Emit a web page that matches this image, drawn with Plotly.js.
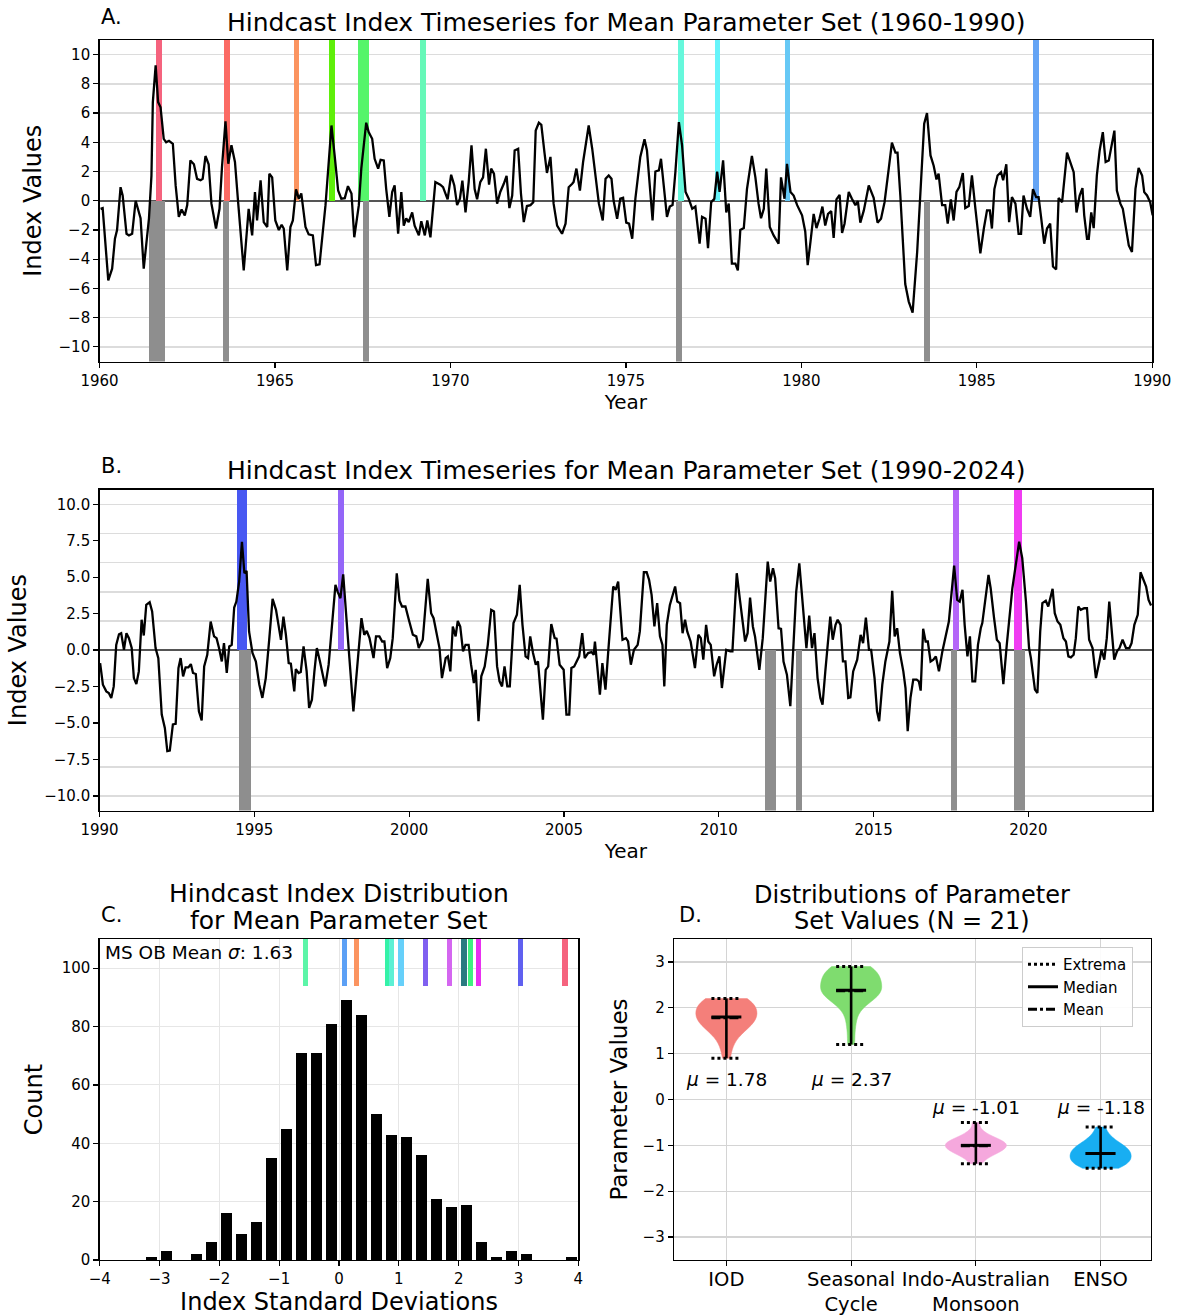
<!DOCTYPE html>
<html><head><meta charset="utf-8">
<script src="https://cdn.plot.ly/plotly-3.0.1.min.js"></script>
<style>html,body{margin:0;padding:0;background:#fff}#chart{width:1177px;height:1316px}</style>
</head><body><div id="chart"></div>
<script>
// ---------- Panel A: index timeseries 1960-1990 (year, value) ----------
const seriesA60s = [[1960.03,-0.55],[1960.09,-0.5],[1960.25,-5.45],[1960.36,-4.65],[1960.44,-2.6],[1960.5,-2.0],[1960.6,0.93],[1960.66,0.36],[1960.77,-2.26],[1960.84,-2.37],[1960.93,-2.26],[1961.03,0.0],[1961.17,-1.2],[1961.26,-4.65],[1961.41,-1.2],[1961.48,1.7],[1961.52,6.75],[1961.6,9.26],[1961.67,6.75],[1961.74,6.4],[1961.83,4.24],[1961.9,4.0],[1961.98,4.1],[1962.09,3.9],[1962.17,1.05],[1962.26,-1.1],[1962.34,-0.6],[1962.43,-1.0],[1962.5,-0.3],[1962.59,2.76],[1962.69,2.5],[1962.78,1.5],[1962.88,1.4],[1962.94,1.5],[1963.02,3.06],[1963.11,2.5],[1963.19,-0.2],[1963.32,-1.9],[1963.42,-0.55],[1963.49,2.3],[1963.59,5.43],[1963.67,2.53],[1963.76,3.8],[1963.86,2.65],[1963.95,-0.1],[1964.11,-4.77],[1964.25,-0.55],[1964.35,-2.37],[1964.43,0.6],[1964.49,-1.35],[1964.59,1.4],[1964.68,-1.46],[1964.78,-1.8],[1964.84,1.85],[1964.92,1.6],[1965.01,-1.35],[1965.11,-2.0],[1965.19,-1.64],[1965.25,-1.9],[1965.35,-4.77],[1965.44,-1.8],[1965.51,-1.35],[1965.6,0.78],[1965.68,0.14],[1965.75,0.5],[1965.87,-1.8],[1965.96,-2.3],[1966.08,-2.37],[1966.17,-4.4],[1966.27,-4.35],[1966.44,-0.3],[1966.51,1.96],[1966.61,5.15],[1966.7,3.1],[1966.8,0.7],[1966.89,0.14],[1966.99,0.18],[1967.08,1.0],[1967.18,0.5],[1967.26,-2.5],[1967.39,-0.3],[1967.46,2.2],[1967.6,5.34],[1967.67,4.7],[1967.77,4.24],[1967.84,2.87],[1967.94,2.2],[1968.01,2.8],[1968.1,2.76],[1968.17,0.8],[1968.26,-1.1],[1968.34,0.6],[1968.41,1.05],[1968.51,-2.26],[1968.6,0.6],[1968.67,-1.7],[1968.74,-1.2],[1968.81,-1.46],[1968.91,-0.8],[1968.98,-1.7],[1969.1,-2.37],[1969.17,-1.4],[1969.27,-2.37],[1969.34,-1.35],[1969.43,-2.5],[1969.57,1.28],[1969.71,1.1]];
const seriesA70s = [[1969.79,0.93],[1969.92,0.1],[1970.02,1.78],[1970.11,1.05],[1970.19,-0.3],[1970.27,0.14],[1970.34,1.37],[1970.43,-0.8],[1970.52,1.28],[1970.6,3.8],[1970.69,0.8],[1970.76,0.1],[1970.85,1.28],[1970.93,1.6],[1971.01,3.56],[1971.1,1.1],[1971.16,2.2],[1971.24,1.85],[1971.33,-0.2],[1971.42,0.6],[1971.52,1.16],[1971.6,1.7],[1971.68,-0.5],[1971.76,0.36],[1971.83,3.44],[1971.93,3.56],[1972.01,0.48],[1972.09,-1.46],[1972.18,-0.36],[1972.28,-0.3],[1972.36,-0.1],[1972.43,4.8],[1972.52,5.34],[1972.59,5.2],[1972.68,3.3],[1972.75,1.9],[1972.85,3.0],[1972.94,-0.2],[1973.04,-1.7],[1973.18,-2.26],[1973.28,-1.57],[1973.37,0.93],[1973.47,1.16],[1973.51,1.28],[1973.59,2.2],[1973.69,0.7],[1973.78,2.65],[1973.94,5.15],[1974.04,3.56],[1974.13,1.73],[1974.23,-0.2],[1974.34,-1.35],[1974.42,1.5],[1974.51,1.73],[1974.59,1.5],[1974.65,0.0],[1974.75,-1.23],[1974.84,0.14],[1974.92,0.2],[1975.01,-1.5],[1975.09,-1.57],[1975.18,-2.6],[1975.27,0.14],[1975.41,3.0],[1975.53,4.2],[1975.6,3.44],[1975.68,0.93],[1975.76,-1.35],[1975.84,2.0],[1975.94,2.08],[1976.0,2.87],[1976.08,0.8],[1976.17,-1.1],[1976.25,-0.4],[1976.33,-0.3],[1976.41,1.96],[1976.51,5.38],[1976.6,3.8],[1976.7,0.6],[1976.79,0.14],[1976.89,-0.55],[1976.98,-0.4],[1977.1,-2.94],[1977.17,-1.1],[1977.27,-1.23],[1977.34,-3.24],[1977.43,-0.1],[1977.52,0.14],[1977.6,2.0],[1977.67,0.6],[1977.77,2.76],[1977.86,-0.8],[1977.93,-0.2],[1978.02,-4.3],[1978.12,-4.3],[1978.19,-4.77],[1978.26,-2.0],[1978.36,-1.87],[1978.45,0.8],[1978.59,3.06],[1978.69,1.6],[1978.78,-0.2],[1978.85,-1.2],[1978.93,-0.55],[1979.0,2.2],[1979.1,-1.8],[1979.21,-2.37],[1979.35,-2.94],[1979.42,1.6],[1979.52,0.14],[1979.59,2.53],[1979.69,0.6],[1979.78,0.36],[1979.88,-0.3],[1979.97,-0.8]];
const seriesA80s = [[1980.02,-1.0],[1980.11,-2.1],[1980.18,-4.4],[1980.26,-2.8],[1980.35,-0.9],[1980.43,-1.87],[1980.52,-1.2],[1980.6,-0.4],[1980.68,-1.7],[1980.76,-0.9],[1980.85,-0.7],[1980.92,-2.55],[1981.0,0.1],[1981.09,0.4],[1981.16,-2.2],[1981.23,-1.57],[1981.35,0.6],[1981.44,0.14],[1981.54,-0.3],[1981.61,-0.02],[1981.68,-1.5],[1981.78,-0.66],[1981.92,1.05],[1982.06,0.2],[1982.17,-1.5],[1982.27,-1.23],[1982.37,-0.1],[1982.49,2.2],[1982.58,3.97],[1982.68,3.3],[1982.74,3.3],[1982.82,0.36],[1982.96,-5.7],[1983.06,-6.9],[1983.17,-7.66],[1983.3,-3.5],[1983.39,0.36],[1983.5,5.27],[1983.58,6.0],[1983.68,3.1],[1983.77,2.4],[1983.85,1.46],[1983.91,1.85],[1984.01,-0.3],[1984.1,-0.3],[1984.17,-1.57],[1984.26,0.1],[1984.34,-1.35],[1984.42,0.6],[1984.5,0.93],[1984.6,1.9],[1984.67,-0.5],[1984.77,-0.36],[1984.86,1.73],[1984.96,-0.55],[1985.1,-3.6],[1985.2,-1.9],[1985.29,-0.66],[1985.37,-0.66],[1985.43,-1.9],[1985.5,0.8],[1985.59,1.73],[1985.69,1.96],[1985.75,1.4],[1985.84,2.5],[1985.92,-1.46],[1986.0,0.25],[1986.1,-0.2],[1986.19,-2.26],[1986.26,-2.26],[1986.33,0.36],[1986.43,-0.55],[1986.52,-1.1],[1986.6,0.8],[1986.69,0.25],[1986.76,0.25],[1986.83,-1.1],[1986.92,-2.94],[1987.0,-1.9],[1987.09,-1.57],[1987.17,-4.5],[1987.26,-4.7],[1987.33,0.18],[1987.43,-0.1],[1987.57,3.3],[1987.66,2.65],[1987.76,1.96],[1987.84,-0.8],[1987.93,0.36],[1988.01,0.87],[1988.06,-1.0],[1988.14,-2.6],[1988.19,-2.6],[1988.26,-0.8],[1988.33,-1.87],[1988.42,1.73],[1988.5,3.44],[1988.59,4.7],[1988.67,2.65],[1988.76,2.76],[1988.85,4.0],[1988.92,4.8],[1988.99,0.7],[1989.09,-0.2],[1989.16,-0.55],[1989.23,-1.7],[1989.33,-3.06],[1989.42,-3.5],[1989.52,0.82],[1989.61,2.24],[1989.71,1.73],[1989.77,0.59],[1989.85,0.36],[1989.94,-0.1],[1990.01,-1.0]];

// ---------- Panel B: index timeseries 1990-2024 (year, value) ----------
const seriesB90s = [[1990.02,-0.89],[1990.11,-2.37],[1990.22,-2.83],[1990.3,-2.94],[1990.38,-3.28],[1990.46,-2.49],[1990.54,0.36],[1990.63,1.09],[1990.7,1.16],[1990.79,0.02],[1990.87,1.16],[1990.95,0.82],[1991.04,0.14],[1991.11,-1.92],[1991.19,-2.33],[1991.27,-1.46],[1991.36,2.08],[1991.43,1.0],[1991.51,3.1],[1991.62,3.28],[1991.7,2.65],[1991.81,0.14],[1991.9,-0.55],[1992.01,-4.42],[1992.11,-5.34],[1992.19,-6.93],[1992.27,-6.89],[1992.37,-5.1],[1992.46,-5.06],[1992.55,-1.23],[1992.62,-0.55],[1992.7,-1.8],[1992.78,-1.19],[1992.87,-1.19],[1992.95,-0.96],[1993.02,-1.57],[1993.11,-1.64],[1993.21,-4.2],[1993.3,-4.83],[1993.38,-1.12],[1993.48,-0.32],[1993.59,1.96],[1993.7,0.94],[1993.78,0.82],[1993.86,0.14],[1993.95,-0.78],[1994.02,0.48],[1994.11,-1.57],[1994.19,0.25],[1994.27,0.36],[1994.35,2.92],[1994.42,3.33],[1994.51,4.7],[1994.6,7.43],[1994.68,5.27],[1994.75,5.43],[1994.83,1.28],[1994.94,-0.2],[1995.05,-0.78],[1995.16,-2.37],[1995.26,-3.28],[1995.37,-1.92],[1995.48,0.7],[1995.59,3.51],[1995.7,2.76],[1995.78,1.73],[1995.86,0.7],[1995.94,2.3],[1996.02,1.05],[1996.11,-0.89],[1996.18,-0.93],[1996.29,-2.83],[1996.34,-1.3],[1996.43,-1.57],[1996.5,-1.5],[1996.59,0.25],[1996.69,-1.46],[1996.77,-3.97],[1996.86,-3.4],[1996.94,-1.46],[1997.02,0.14],[1997.12,-0.78],[1997.21,-1.69],[1997.29,-2.49],[1997.4,-1.0],[1997.51,1.73],[1997.62,4.47],[1997.69,4.01],[1997.78,3.56],[1997.87,5.2],[1997.98,1.73],[1998.07,-0.55],[1998.2,-4.2],[1998.28,-1.92],[1998.37,0.02],[1998.46,2.19],[1998.55,1.05],[1998.63,1.32],[1998.72,0.82],[1998.85,-0.55],[1998.93,0.94],[1999.04,0.94],[1999.13,0.59],[1999.2,0.59],[1999.29,-1.23],[1999.39,-0.55],[1999.47,0.82],[1999.6,5.27],[1999.69,3.38],[1999.77,2.99],[1999.88,2.99],[1999.99,2.08],[2000.12,1.05],[2000.23,0.94],[2000.31,0.14],[2000.44,0.71],[2000.6,4.88],[2000.71,2.53],[2000.79,2.19],[2000.98,0.14],[2001.06,-1.92],[2001.18,-0.55],[2001.25,-0.43],[2001.33,-1.46],[2001.41,1.62],[2001.5,0.94]];
const seriesB00s = [[2001.57,2.0],[2001.65,1.62],[2001.74,-0.09],[2001.82,0.36],[2001.92,0.36],[2002.0,-1.0],[2002.09,-2.26],[2002.15,-1.35],[2002.24,-4.88],[2002.33,-1.8],[2002.44,-1.12],[2002.54,0.36],[2002.65,2.76],[2002.74,2.65],[2002.84,-1.12],[2002.92,-2.14],[2003.0,-2.49],[2003.08,-1.12],[2003.17,-2.49],[2003.25,-2.49],[2003.37,1.85],[2003.48,2.42],[2003.57,4.47],[2003.66,1.73],[2003.76,-0.43],[2003.84,-0.55],[2003.91,0.94],[2004.0,-0.2],[2004.09,-1.0],[2004.16,-0.78],[2004.32,-4.77],[2004.41,-1.35],[2004.49,-1.12],[2004.59,1.78],[2004.7,0.82],[2004.76,0.78],[2004.86,-1.0],[2004.99,-1.35],[2005.08,-4.42],[2005.17,-4.42],[2005.24,-1.23],[2005.33,-1.12],[2005.4,-0.78],[2005.49,-0.43],[2005.59,1.16],[2005.67,-0.55],[2005.78,-0.2],[2005.89,-0.14],[2005.96,-0.32],[2006.0,0.59],[2006.07,-1.0],[2006.16,-3.06],[2006.24,-0.89],[2006.34,-2.71],[2006.43,-0.09],[2006.54,3.33],[2006.59,4.36],[2006.67,4.13],[2006.75,4.7],[2006.89,0.71],[2007.0,0.82],[2007.07,0.59],[2007.16,-1.0],[2007.26,0.02],[2007.38,0.36],[2007.45,1.28],[2007.58,5.34],[2007.67,5.34],[2007.75,4.81],[2007.83,3.79],[2007.92,1.62],[2008.01,3.22],[2008.1,0.94],[2008.18,0.36],[2008.24,-2.49],[2008.32,1.73],[2008.42,3.1],[2008.59,4.36],[2008.66,3.33],[2008.75,3.22],[2008.83,1.16],[2008.91,2.08],[2008.98,1.28],[2009.09,0.59],[2009.23,-1.23],[2009.34,1.05],[2009.42,0.82],[2009.5,-0.66],[2009.59,1.73],[2009.66,0.59],[2009.74,0.36],[2009.85,-1.8],[2009.93,-1.0],[2010.02,-0.43],[2010.1,-2.6],[2010.24,0.02],[2010.37,-0.09],[2010.44,-0.09],[2010.58,5.27],[2010.69,3.33],[2010.85,0.59],[2010.93,1.16],[2011.01,3.6],[2011.1,1.62],[2011.17,0.94],[2011.31,-1.35],[2011.42,0.82],[2011.58,6.07],[2011.66,4.7],[2011.75,5.61],[2011.82,4.93],[2011.93,1.5],[2012.01,1.46],[2012.09,-0.78],[2012.2,-1.69],[2012.31,-3.85],[2012.43,1.05],[2012.5,4.01],[2012.6,5.95]];
const seriesB10s = [[2012.69,3.79],[2012.83,0.14],[2012.92,2.37],[2013.01,0.14],[2013.09,1.16],[2013.19,-1.92],[2013.28,-3.28],[2013.35,-3.74],[2013.44,-1.46],[2013.6,2.3],[2013.68,0.71],[2013.77,1.73],[2013.84,2.08],[2013.93,1.73],[2014.01,-0.78],[2014.09,-0.78],[2014.18,-3.28],[2014.25,-3.24],[2014.34,-1.46],[2014.47,-0.66],[2014.58,1.05],[2014.66,0.48],[2014.75,2.23],[2014.85,0.02],[2014.92,0.02],[2015.03,-1.92],[2015.11,-4.2],[2015.18,-4.88],[2015.28,-2.37],[2015.38,-0.78],[2015.51,0.59],[2015.6,4.06],[2015.68,0.94],[2015.76,1.5],[2015.85,-0.2],[2015.96,-1.46],[2016.03,-2.6],[2016.1,-5.56],[2016.19,-3.28],[2016.28,-2.03],[2016.39,-2.03],[2016.46,-2.14],[2016.52,-2.78],[2016.6,1.46],[2016.68,0.59],[2016.75,0.59],[2016.84,-0.78],[2016.93,-0.66],[2017.01,-0.43],[2017.11,-1.46],[2017.22,-0.09],[2017.33,1.05],[2017.43,1.96],[2017.6,5.79],[2017.7,3.44],[2017.78,3.33],[2017.87,4.13],[2017.94,1.73],[2018.03,-0.43],[2018.11,0.94],[2018.19,-2.14],[2018.28,-2.14],[2018.37,0.36],[2018.46,1.5],[2018.51,1.85],[2018.71,5.15],[2018.78,4.24],[2018.89,2.19],[2018.98,0.71],[2019.07,0.48],[2019.19,-2.33],[2019.3,0.36],[2019.48,4.24],[2019.7,7.43],[2019.8,6.3],[2019.92,3.33],[2020.02,0.14],[2020.08,-0.55],[2020.21,-2.71],[2020.29,-2.94],[2020.38,1.28],[2020.45,3.22],[2020.56,3.38],[2020.64,2.99],[2020.78,4.2],[2020.85,2.53],[2020.94,1.96],[2021.03,1.73],[2021.13,0.82],[2021.21,0.59],[2021.29,-0.43],[2021.37,-0.5],[2021.46,-0.32],[2021.53,0.82],[2021.61,2.99],[2021.69,2.76],[2021.8,2.87],[2021.89,2.87],[2021.96,0.71],[2022.07,0.14],[2022.18,-1.92],[2022.29,-0.78],[2022.36,0.02],[2022.45,-0.66],[2022.53,0.82],[2022.61,3.33],[2022.69,1.5],[2022.77,-0.66],[2022.86,-0.09],[2022.94,0.14],[2023.04,0.71],[2023.15,0.14],[2023.26,0.14],[2023.33,0.48],[2023.42,1.73],[2023.53,2.42],[2023.62,5.34],[2023.72,4.81],[2023.8,4.36],[2023.88,3.44],[2023.96,3.06]];

// ---------- Highlighted events (colored, above zero) and gray spans (below zero) ----------
const eventStartA = [1961.60, 1963.55, 1965.53, 1966.53, 1967.38, 1969.14, 1976.48, 1977.53, 1979.52, 1986.60];
const eventEndA   = [1961.77, 1963.72, 1965.69, 1966.72, 1967.69, 1969.30, 1976.65, 1977.69, 1979.69, 1986.76];
const eventColorA = ['#f5637e', '#fb6a64', '#fb9460', '#5fef0a', '#55f56a', '#66f8b8', '#66f8dc', '#66f4fa', '#66c8f5', '#64a4f5'];
const grayStartA = [1961.42, 1963.52, 1967.50, 1976.43, 1983.50];
const grayEndA   = [1961.86, 1963.70, 1967.69, 1976.60, 1983.67];
const eventStartB = [1994.44, 1997.69, 2017.57, 2019.52];
const eventEndB   = [1994.77, 1997.90, 2017.76, 2019.78];
const eventColorB = ['#4858f2', '#9466f8', '#b466f8', '#f03cf2'];
const grayStartB = [1994.51, 2011.50, 2012.50, 2017.51, 2019.52];
const grayEndB   = [1994.88, 2011.84, 2012.70, 2017.70, 2019.88];

// ---------- Panel C: histogram ----------
const histCounts = [1, 3, 0, 2, 6, 16, 9, 13, 35, 45, 71, 71, 81, 89, 84, 50, 43, 42, 36, 21, 18, 19, 6, 1, 3, 2, 0, 0, 1];
const histFirstCenter = -3.134;
const histBinWidth = 0.2507;
const sigmaMarkPos   = [-0.556, 0.089, 0.295, 0.82, 0.88, 1.035, 1.447, 1.842, 2.09, 2.2, 2.33, 3.03, 3.78];
const sigmaMarkColor = ['#5cf5a8', '#5ca0f5', '#fb9460', '#34f2a8', '#5cf0d4', '#66d0fa', '#8060f0', '#d466f0', '#2a7a80', '#40f080', '#e830f0', '#6060f0', '#f5637e'];
const msObMeanSigma = 1.63;

// ---------- Panel D: parameter distributions (N = 21) ----------
const paramNames = ['IOD', 'Seasonal<br>Cycle', 'Indo-Australian<br>Monsoon', 'ENSO'];
const paramColors = ['#f47f7a', '#7fdc6f', '#f5a8dd', '#18aef2'];
const iodValues      = [0.9, 1.2, 1.35, 1.5, 1.58, 1.6, 1.65, 1.7, 1.75, 1.78, 1.8, 1.85, 1.9, 1.95, 2.0, 2.05, 2.1, 2.12, 2.16, 2.2, 2.2];
const seasonalValues = [1.2, 1.6, 1.9, 2.1, 2.2, 2.25, 2.3, 2.33, 2.35, 2.37, 2.38, 2.5, 2.55, 2.6, 2.65, 2.7, 2.75, 2.8, 2.85, 2.88, 2.9];
const monsoonValues  = [-1.4, -1.3, -1.22, -1.18, -1.15, -1.12, -1.1, -1.08, -1.05, -1.02, -1.0, -0.98, -0.96, -0.94, -0.92, -0.9, -0.87, -0.83, -0.78, -0.7, -0.5];
const ensoValues     = [-1.5, -1.47, -1.44, -1.41, -1.38, -1.35, -1.32, -1.29, -1.26, -1.22, -1.18, -1.15, -1.12, -1.1, -1.07, -1.03, -1.0, -0.95, -0.88, -0.78, -0.6];
const paramMeans = [1.78, 2.37, -1.01, -1.18];

// ================= build =================
const FONT = 'DejaVu Sans, Arial, sans-serif';
const YLIM = 11;
const GRID = '#dcdcdc';
const traces = [];

function spanTrace(starts, ends, colors, top, xa, ya) {
  return {type: 'bar', x: starts.map((s, i) => (s + ends[i]) / 2), width: starts.map((s, i) => ends[i] - s),
    y: starts.map(() => top), base: 0, marker: {color: colors, line: {width: 0}},
    xaxis: xa, yaxis: ya, showlegend: false, hoverinfo: 'skip'};
}
function lineTrace(parts, xa, ya) {
  const pts = [].concat(...parts);
  return {type: 'scatter', mode: 'lines', x: pts.map(p => p[0]), y: pts.map(p => p[1]),
    line: {color: 'black', width: 2.3}, xaxis: xa, yaxis: ya, showlegend: false, hoverinfo: 'skip'};
}

// Panel A
traces.push(spanTrace(eventStartA, eventEndA, eventColorA, YLIM, 'x', 'y'));
traces.push(spanTrace(grayStartA, grayEndA, grayStartA.map(() => '#8e8e8e'), -YLIM, 'x', 'y'));
traces.push(lineTrace([seriesA60s, seriesA70s, seriesA80s], 'x', 'y'));
// Panel B
traces.push({type: 'scatter', x: [], y: [], xaxis: 'x2', yaxis: 'y5', showlegend: false, hoverinfo: 'skip'});
traces.push(spanTrace(eventStartB, eventEndB, eventColorB, YLIM, 'x2', 'y2'));
traces.push(spanTrace(grayStartB, grayEndB, grayStartB.map(() => '#8e8e8e'), -YLIM, 'x2', 'y2'));
traces.push(lineTrace([seriesB90s, seriesB00s, seriesB10s], 'x2', 'y2'));

// Panel C
const MARK_BASE = 94, MARK_TOP = 110;
traces.push({type: 'bar', x: histCounts.map((c, i) => histFirstCenter + i * histBinWidth), y: histCounts,
  width: histBinWidth * 0.78, marker: {color: 'black', line: {width: 0}}, xaxis: 'x3', yaxis: 'y3', showlegend: false, hoverinfo: 'skip'});
traces.push({type: 'bar', x: sigmaMarkPos, y: sigmaMarkPos.map(() => MARK_TOP - MARK_BASE), base: MARK_BASE,
  width: 0.09, marker: {color: sigmaMarkColor, line: {width: 0}}, xaxis: 'x3', yaxis: 'y3', showlegend: false, hoverinfo: 'skip'});

// Panel D
const paramValues = [iodValues, seasonalValues, monsoonValues, ensoValues];
paramValues.forEach((vals, i) => {
  traces.push({type: 'violin', x: vals.map(() => i), y: vals, spanmode: 'hard', points: false,
    width: 0.49, scalemode: 'width', fillcolor: paramColors[i], line: {color: paramColors[i], width: 0.5},
    opacity: 1, box: {visible: false}, meanline: {visible: false}, xaxis: 'x4', yaxis: 'y4',
    showlegend: false, hoverinfo: 'skip'});
});
function median(a) { const s = [...a].sort((p, q) => p - q); const n = s.length; return n % 2 ? s[(n - 1) / 2] : (s[n / 2 - 1] + s[n / 2]) / 2; }
const HW = 0.12;
const vertX = [], vertY = [], extX = [], extY = [], medX = [], medY = [], meanX = [], meanY = [];
paramValues.forEach((vals, i) => {
  const lo = Math.min(...vals), hi = Math.max(...vals), md = median(vals), mn = paramMeans[i];
  vertX.push(i, i, null); vertY.push(lo, hi, null);
  extX.push(i - HW, i + HW, null, i - HW, i + HW, null); extY.push(lo, lo, null, hi, hi, null);
  medX.push(i - HW, i + HW, null); medY.push(md, md, null);
  meanX.push(i - HW, i + HW, null); meanY.push(mn, mn, null);
});
traces.push({type: 'scatter', mode: 'lines', x: vertX, y: vertY, line: {color: 'black', width: 2.6}, xaxis: 'x4', yaxis: 'y4', showlegend: false, hoverinfo: 'skip'});
traces.push({type: 'scatter', mode: 'lines', x: extX, y: extY, name: 'Extrema', line: {color: 'black', width: 3, dash: 'dot'}, xaxis: 'x4', yaxis: 'y4', showlegend: true, hoverinfo: 'skip'});
traces.push({type: 'scatter', mode: 'lines', x: medX, y: medY, name: 'Median', line: {color: 'black', width: 3}, xaxis: 'x4', yaxis: 'y4', showlegend: true, hoverinfo: 'skip'});
traces.push({type: 'scatter', mode: 'lines', x: meanX, y: meanY, name: 'Mean', line: {color: 'black', width: 3, dash: 'dashdot'}, xaxis: 'x4', yaxis: 'y4', showlegend: true, hoverinfo: 'skip'});

// ---------- axes ----------
const axBase = {showline: true, mirror: true, linecolor: 'black', linewidth: 1.3, ticks: 'outside', ticklen: 5, tickwidth: 1.2,
  tickcolor: 'black', tickfont: {family: FONT, size: 15, color: 'black'}, zeroline: false, fixedrange: true};
function mkAxis(o) { return Object.assign({}, axBase, o); }
const W = 1177, H = 1316;
const px = v => v / W, py = v => 1 - v / H;

const annotations = [];
function txt(t, x, y, size, xanchor) {
  annotations.push({text: t, x: x, y: y, xref: 'paper', yref: 'paper', showarrow: false,
    xanchor: xanchor || 'center', yanchor: 'middle', font: {family: FONT, size: size, color: 'black'}});
}
txt('A.', px(99), py(17), 21, 'left');
txt('Hindcast Index Timeseries for Mean Parameter Set (1960-1990)', px(625.5), py(22), 25);
txt('B.', px(99), py(466), 21, 'left');
txt('Hindcast Index Timeseries for Mean Parameter Set (1990-2024)', px(625.5), py(471), 25);
txt('C.', px(99), py(915), 21, 'left');
txt('Hindcast Index Distribution', px(339), py(893), 25);
txt('for Mean Parameter Set', px(339), py(920), 25);
txt('D.', px(677), py(915), 21, 'left');
txt('Distributions of Parameter', px(912), py(895), 24);
txt('Set Values (N = 21)', px(912), py(921), 24);
txt('MS OB Mean <i>σ</i>: ' + msObMeanSigma.toFixed(2), px(103), py(953), 18.5, 'left');
paramMeans.forEach((m, i) => {
  annotations.push({text: '<i>μ</i> = ' + m.toFixed(2), x: i, y: m > 0 ? 0.44 : -0.17, xref: 'x4', yref: 'y4',
    showarrow: false, xanchor: 'center', yanchor: 'middle', font: {family: FONT, size: 18.5, color: 'black'}});
});

const layout = {
  width: W, height: H, margin: {l: 0, r: 0, t: 0, b: 0}, paper_bgcolor: 'white', plot_bgcolor: 'white',
  font: {family: FONT, size: 15, color: 'black'}, barmode: 'overlay', violinmode: 'overlay', bargap: 0,
  xaxis: mkAxis({domain: [px(99.5), px(1152.3)], range: [1960, 1990], tick0: 1960, dtick: 5, showgrid: false, anchor: 'y',
    title: {text: 'Year', font: {family: FONT, size: 20}, standoff: 6}}),
  yaxis: mkAxis({domain: [py(361.5), py(40)], range: [-YLIM, YLIM], tick0: 0, dtick: 2, showgrid: true, gridcolor: GRID, gridwidth: 1.5,
    zeroline: true, zerolinecolor: '#555555', zerolinewidth: 2, anchor: 'x',
    title: {text: 'Index Values', font: {family: FONT, size: 24}, standoff: 10}}),
  xaxis2: mkAxis({domain: [px(99.5), px(1152.3)], range: [1990, 2024], tick0: 1990, dtick: 5, showgrid: false, anchor: 'y2',
    title: {text: 'Year', font: {family: FONT, size: 20}, standoff: 6}}),
  yaxis2: mkAxis({domain: [py(810.5), py(489.7)], range: [-YLIM, YLIM], tick0: 0, dtick: 2.5, tickformat: '.1f', showgrid: false,
    zeroline: true, zerolinecolor: '#555555', zerolinewidth: 2, anchor: 'x2',
    title: {text: 'Index Values', font: {family: FONT, size: 24}, standoff: 10}}),
  yaxis5: {overlaying: 'y2', anchor: 'x2', side: 'left', range: [-YLIM, YLIM], tick0: 0, dtick: 2, showgrid: true, gridcolor: GRID,
    gridwidth: 1.5, showticklabels: false, ticks: '', showline: false, zeroline: false, fixedrange: true},
  xaxis3: mkAxis({domain: [px(99.7), px(578.3)], range: [-4, 4], dtick: 1, showgrid: true, gridcolor: '#e6e6e6', gridwidth: 1, anchor: 'y3',
    title: {text: 'Index Standard Deviations', font: {family: FONT, size: 24}, standoff: 4}}),
  yaxis3: mkAxis({domain: [py(1260), py(939)], range: [0, 110], dtick: 20, showgrid: true, gridcolor: '#e6e6e6', gridwidth: 1, anchor: 'x3',
    title: {text: 'Count', font: {family: FONT, size: 24}, standoff: 12}}),
  xaxis4: mkAxis({domain: [px(674), px(1150.5)], range: [-0.42, 3.4], tickvals: [0, 1, 2, 3], ticktext: paramNames,
    tickfont: {family: FONT, size: 19.5, color: 'black'}, ticklabelstandoff: -4, showgrid: true, gridcolor: '#d4d4d4', gridwidth: 1.2, anchor: 'y4'}),
  yaxis4: mkAxis({domain: [py(1260), py(939)], range: [-3.5, 3.5], dtick: 1, showgrid: true, gridcolor: '#d4d4d4', gridwidth: 1.2, anchor: 'x4',
    title: {text: 'Parameter Values', font: {family: FONT, size: 23}, standoff: 8}}),
  showlegend: true,
  legend: {x: px(1022), y: py(947), xanchor: 'left', yanchor: 'top', bgcolor: 'rgba(255,255,255,0.9)', bordercolor: '#cccccc',
    borderwidth: 1, font: {family: FONT, size: 15, color: 'black'}, tracegroupgap: 0, itemwidth: 30},
  annotations: annotations
};

Plotly.newPlot('chart', traces, layout, {displayModeBar: false, staticPlot: true});
</script>
</body></html>
